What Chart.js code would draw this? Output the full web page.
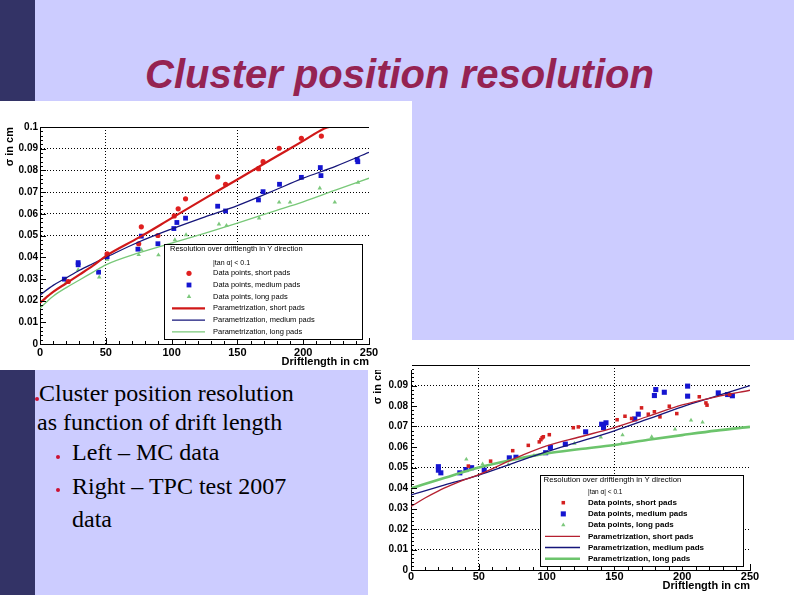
<!DOCTYPE html>
<html>
<head>
<meta charset="utf-8">
<script src="https://cdn.jsdelivr.net/npm/chart.js@4.4.1/dist/chart.umd.min.js"></script>
<style>
body { margin: 0; }
#slide { position: relative; width: 794px; height: 595px; background: #ccccff; overflow: hidden; font-family: 'Liberation Serif', 'Times New Roman', serif; }
#bar { position: absolute; left: 0; top: 0; width: 35px; height: 595px; background: #333366; }
#title { position: absolute; left: 145px; top: 54px; font: italic bold 40px/40px 'Liberation Sans', Arial, sans-serif; color: #952352; white-space: nowrap; }
.panel { position: absolute; background: #fff; }
#leftPanel { left: 0; top: 101px; width: 412px; height: 269px; z-index: 2; }
#rightPanel { left: 368px; top: 340px; width: 426px; height: 255px; z-index: 1; }
.txt { position: absolute; font-size: 24px; line-height: 24px; color: #000; white-space: nowrap; }
.dot { position: absolute; width: 4px; height: 4px; border-radius: 2px; background: #cc1133; }
</style>
</head>
<body>
<div id="slide">
  <div id="bar"></div>
  <div id="title">Cluster position resolution</div>
  <div class="panel" id="leftPanel"><canvas id="mcChart" width="412" height="269"></canvas></div>
  <div class="panel" id="rightPanel"><canvas id="tpcChart" width="426" height="255"></canvas></div>

  <div class="dot" style="left:35px;top:397px"></div>
  <div class="txt" style="left:39px;top:381px">Cluster position resolution</div>
  <div class="txt" style="left:37px;top:410px">as function of drift length</div>
  <div class="dot" style="left:56px;top:455px"></div>
  <div class="txt" style="left:72px;top:440px">Left – MC data</div>
  <div class="dot" style="left:56px;top:488px"></div>
  <div class="txt" style="left:72px;top:474px">Right – TPC test 2007</div>
  <div class="txt" style="left:72px;top:507px">data</div>
</div>

<script>
// ---- left: MC data ----
const mcShortX = [21.5, 51, 75, 77, 89.6, 102, 105, 110.6, 135, 141, 166, 169.5, 181.7, 198.6, 213.8];
const mcShortY = [0.0288, 0.0416, 0.0462, 0.054, 0.050, 0.059, 0.0623, 0.0669, 0.077, 0.0736, 0.0808, 0.084, 0.0902, 0.0948, 0.0958];
const mcMediumX = [18.5, 29, 29, 44.5, 51, 74.4, 77, 89.6, 101.7, 104, 110.6, 135, 141, 166, 169.5, 182, 198.6, 213, 213.5, 241, 241.5];
const mcMediumY = [0.0299, 0.0365, 0.0375, 0.0331, 0.0402, 0.0437, 0.0497, 0.0462, 0.0532, 0.056, 0.058, 0.0635, 0.0613, 0.0664, 0.0702, 0.0736, 0.0768, 0.0813, 0.0776, 0.085, 0.084];
const mcLongX = [19.7, 29, 45, 51, 75, 77, 90, 102.5, 111, 136, 141.7, 166.5, 181.7, 190, 212.6, 224, 241.7];
const mcLongY = [0.0284, 0.0342, 0.0308, 0.039, 0.0411, 0.0434, 0.041, 0.048, 0.0503, 0.0552, 0.0546, 0.058, 0.0653, 0.0653, 0.0718, 0.0653, 0.0745];

const mcFitShortX = [0, 10, 20, 30, 40, 50, 75, 100, 125, 150, 175, 200, 215, 220, 250];
const mcFitShortY = [0.019, 0.024, 0.028, 0.032, 0.036, 0.0405, 0.049, 0.058, 0.067, 0.0758, 0.0848, 0.0936, 0.099, 0.1, 0.1];
const mcFitMediumX = [0, 10, 20, 30, 40, 50, 75, 100, 125, 150, 175, 200, 225, 250];
const mcFitMediumY = [0.0225, 0.027, 0.0305, 0.034, 0.037, 0.0399, 0.047, 0.053, 0.0585, 0.0638, 0.070, 0.0764, 0.082, 0.0883];
const mcFitLongX = [0, 10, 20, 30, 40, 50, 75, 100, 125, 150, 175, 200, 225, 250];
const mcFitLongY = [0.0165, 0.022, 0.026, 0.0295, 0.033, 0.0365, 0.042, 0.0465, 0.051, 0.0557, 0.0607, 0.0655, 0.071, 0.0764];

// ---- right: TPC test 2007 ----
const tpcShortX = [42.3, 58.7, 75, 86.5, 94.6, 95.8, 96.7, 97.6, 102, 119.7, 123.4, 152, 157.8, 162.7, 170, 175, 179.5, 183.6, 190.5, 196, 212.6, 217.5, 218.3, 235];
const tpcShortY = [0.0507, 0.0531, 0.0582, 0.0608, 0.0625, 0.0636, 0.0645, 0.065, 0.066, 0.0694, 0.0698, 0.0733, 0.075, 0.0739, 0.0791, 0.076, 0.0772, 0.0747, 0.0799, 0.0763, 0.0845, 0.0815, 0.0804, 0.0856];
const tpcMediumX = [20.2, 20.2, 22, 36, 40.5, 44.7, 54, 72.5, 77.4, 99.3, 102.8, 113.8, 128.8, 140.6, 142, 143.8, 165, 167.6, 179.5, 180.5, 186.8, 204, 204, 226.6, 233.5, 237];
const tpcMediumY = [0.0504, 0.0487, 0.0474, 0.0474, 0.049, 0.0499, 0.0487, 0.0547, 0.055, 0.0572, 0.0598, 0.0614, 0.0674, 0.0711, 0.0695, 0.0718, 0.0737, 0.076, 0.0851, 0.088, 0.0867, 0.0897, 0.0848, 0.0864, 0.0856, 0.085];
const tpcLongX = [40.8, 52.8, 71.8, 90.7, 120.5, 140, 156, 155.4, 177.5, 194.7, 206.5, 215];
const tpcLongY = [0.054, 0.0517, 0.0515, 0.0559, 0.0617, 0.0647, 0.0658, 0.0617, 0.065, 0.0686, 0.0731, 0.0721];

const tpcFitShortX = [0, 10, 20, 30, 40, 50, 75, 100, 125, 150, 175, 200, 225, 250];
const tpcFitShortY = [0.031, 0.035, 0.0385, 0.0415, 0.0442, 0.0465, 0.054, 0.0605, 0.065, 0.0695, 0.075, 0.0805, 0.0845, 0.0877];
const tpcFitMediumX = [0, 25, 50, 75, 100, 125, 150, 175, 200, 225, 250];
const tpcFitMediumY = [0.0366, 0.0415, 0.0463, 0.052, 0.0577, 0.0627, 0.0679, 0.0737, 0.0796, 0.0848, 0.09];
const tpcFitLongX = [0, 25, 50, 75, 100, 125, 150, 175, 200, 225, 250];
const tpcFitLongY = [0.0398, 0.045, 0.05, 0.0538, 0.0569, 0.059, 0.061, 0.0635, 0.0658, 0.068, 0.0698];

const legendLabels = [
    'Data points, short pads', 'Data points, medium pads', 'Data points, long pads',
    'Parametrization, short pads', 'Parametrization, medium pads', 'Parametrization, long pads'
];

const AXIS_FONT = "'Liberation Sans', Arial, sans-serif";

const pts = (xs, ys) => xs.map((x, i) => ({ x, y: ys[i] }));

// inward ROOT-style ticks + top frame line
const rootTicks = {
    id: 'rootTicks',
    afterDatasetsDraw(chart, args, o) {
        const { ctx, chartArea: a, scales: { x, y } } = chart;
        ctx.save();
        ctx.strokeStyle = '#000';
        ctx.lineWidth = 1;
        ctx.beginPath();
        const nx = Math.round((x.max - x.min) / 10);
        for (let i = 0; i <= nx; i++) {
            const px = Math.round(x.getPixelForValue(x.min + i * 10)) + 0.5;
            ctx.moveTo(px, a.bottom);
            ctx.lineTo(px, a.bottom - (i % 5 === 0 ? 6 : 3));
        }
        const ny = Math.round((y.max - y.min) / 0.002);
        for (let i = 0; i <= ny; i++) {
            const py = Math.round(y.getPixelForValue(y.min + i * 0.002)) + 0.5;
            ctx.moveTo(a.left, py);
            ctx.lineTo(a.left + (i % 5 === 0 ? 6 : 3), py);
        }
        if (o.topFrame) {
            ctx.moveTo(a.left, Math.round(a.top) + 0.5);
            ctx.lineTo(a.right, Math.round(a.top) + 0.5);
        }
        ctx.stroke();
        ctx.restore();
    }
};

function drawMarker(ctx, style, x, y, r, color) {
    ctx.fillStyle = color;
    ctx.beginPath();
    if (style === 'circle') {
        ctx.arc(x, y, r, 0, Math.PI * 2);
    } else if (style === 'rect') {
        const s = r * Math.SQRT1_2;
        ctx.rect(x - s, y - s, 2 * s, 2 * s);
    } else {
        ctx.moveTo(x, y - r);
        ctx.lineTo(x + r * 0.866, y + r * 0.5);
        ctx.lineTo(x - r * 0.866, y + r * 0.5);
        ctx.closePath();
    }
    ctx.fill();
}

const rootLegend = {
    id: 'rootLegend',
    afterDatasetsDraw(chart, args, o) {
        const ctx = chart.ctx;
        const [x1, y1, x2, y2] = o.box;
        ctx.save();
        ctx.fillStyle = '#fff';
        ctx.fillRect(x1, y1, x2 - x1, y2 - y1);
        ctx.strokeStyle = '#000';
        ctx.lineWidth = 1;
        ctx.strokeRect(x1 + 0.5, y1 + 0.5, x2 - x1, y2 - y1);
        ctx.textBaseline = 'middle';
        ctx.textAlign = 'left';
        ctx.fillStyle = '#000';
        ctx.font = o.titleFont;
        ctx.fillText('Resolution over driftlength in Y direction', o.titleX, o.titleY);
        ctx.font = o.noteFont;
        ctx.fillText('|tan α| < 0.1', o.textX, o.noteY);
        chart.data.datasets.forEach((ds, i) => {
            const y = o.rowY + i * o.rowStep;
            if (ds.showLine) {
                ctx.strokeStyle = ds.borderColor;
                ctx.lineWidth = ds.borderWidth;
                ctx.beginPath();
                ctx.moveTo(o.lineX1, y);
                ctx.lineTo(o.lineX2, y);
                ctx.stroke();
            } else {
                drawMarker(ctx, ds.pointStyle, o.markX, y, ds.pointRadius, ds.backgroundColor);
            }
            ctx.fillStyle = '#000';
            ctx.font = o.entryFont;
            ctx.fillText(ds.label, o.textX, y);
        });
        ctx.restore();
    }
};

function pointSet(label, data, style, radius, color) {
    return { label, data, showLine: false, pointStyle: style, pointRadius: radius, pointBorderWidth: 0,
             backgroundColor: color, borderColor: color, order: 1 };
}

function fitSet(label, data, color, width) {
    return { label, data, showLine: true, pointRadius: 0, borderColor: color, backgroundColor: color,
             borderWidth: width, cubicInterpolationMode: 'monotone', fill: false, order: 0 };
}

function makeResolutionChart(canvasId, cfg) {
    const el = document.getElementById(canvasId);
    if (!el) return null;
    const near = (list, v) => list.some(g => Math.abs(g - v) < 1e-6);
    return new Chart(el.getContext('2d'), {
        type: 'scatter',
        data: { datasets: cfg.datasets },
        options: {
            responsive: false,
            animation: false,
            events: [],
            layout: { padding: cfg.padding },
            plugins: {
                legend: { display: false },
                tooltip: { enabled: false },
                rootLegend: cfg.legend,
                rootTicks: { topFrame: true }
            },
            scales: {
                x: {
                    type: 'linear', min: 0, max: 250,
                    afterFit: s => { s.height = cfg.xHeight; },
                    ticks: { stepSize: 50, padding: cfg.xTickPad, color: '#000', maxRotation: 0, autoSkip: false,
                             font: { family: AXIS_FONT, size: 11, weight: 'bold' } },
                    grid: { drawTicks: false, lineWidth: 1,
                            color: c => (c.tick && near(cfg.xGrid, c.tick.value)) ? '#000' : 'rgba(0,0,0,0)' },
                    border: { display: true, color: '#000', width: 1, dash: [1, 2] },
                    title: { display: true, text: 'Driftlength in cm', align: 'end', color: '#000',
                             font: { family: AXIS_FONT, size: 11, weight: 'bold' },
                             padding: { top: 0, bottom: cfg.xTitlePad } }
                },
                y: {
                    type: 'linear', min: 0, max: 0.1,
                    afterFit: s => { s.width = cfg.yWidth; },
                    ticks: { stepSize: 0.01, padding: cfg.yTickPad, color: '#000', autoSkip: false, includeBounds: false,
                             font: { family: AXIS_FONT, size: 10, weight: 'bold' },
                             callback: v => (cfg.hideTop && v > 0.0999) ? '' : String(+v.toFixed(3)) },
                    grid: { drawTicks: false, lineWidth: 1,
                            color: c => (c.tick && near(cfg.yGrid, c.tick.value)) ? '#000' : 'rgba(0,0,0,0)' },
                    border: { display: true, color: '#000', width: 1, dash: [1, 2] },
                    title: { display: true, text: 'σ in cm', align: 'end', color: '#000',
                             font: { family: AXIS_FONT, size: 11, weight: 'bold' },
                             padding: { top: 3, bottom: 0 } }
                }
            }
        },
        plugins: [rootTicks, rootLegend]
    });
}

makeResolutionChart('mcChart', {
    datasets: [
        pointSet(legendLabels[0], pts(mcShortX, mcShortY), 'circle', 2.6, '#e02020'),
        pointSet(legendLabels[1], pts(mcMediumX, mcMediumY), 'rect', 3.4, '#1515d0'),
        pointSet(legendLabels[2], pts(mcLongX, mcLongY), 'triangle', 2.6, '#7cc87c'),
        fitSet(legendLabels[3], pts(mcFitShortX, mcFitShortY), '#d01818', 2.2),
        fitSet(legendLabels[4], pts(mcFitMediumX, mcFitMediumY), '#15157a', 1.3),
        fitSet(legendLabels[5], pts(mcFitLongX, mcFitLongY), '#78c878', 1.3)
    ],
    padding: { top: 26, right: 43, bottom: 0, left: 0 },
    xHeight: 26, yWidth: 40, xTickPad: 2, yTickPad: 2, xTitlePad: 1,
    xGrid: [50, 150], yGrid: [0.05, 0.06, 0.07, 0.08, 0.09],
    hideTop: false,
    legend: {
        box: [164, 143, 362, 238], titleX: 170, titleY: 148, textX: 213, noteY: 162.3,
        rowY: 172.3, rowStep: 11.7, markX: 189, lineX1: 172, lineX2: 205,
        titleFont: "7.5px 'Liberation Sans', Arial", noteFont: "7px 'Liberation Sans', Arial",
        entryFont: "7.5px 'Liberation Sans', Arial"
    }
});

makeResolutionChart('tpcChart', {
    datasets: [
        pointSet(legendLabels[0], pts(tpcShortX, tpcShortY), 'rect', 2.5, '#d42020'),
        pointSet(legendLabels[1], pts(tpcMediumX, tpcMediumY), 'rect', 3.6, '#1515d0'),
        pointSet(legendLabels[2], pts(tpcLongX, tpcLongY), 'triangle', 2.5, '#7cc87c'),
        fitSet(legendLabels[3], pts(tpcFitShortX, tpcFitShortY), '#b52030', 1.3),
        fitSet(legendLabels[4], pts(tpcFitMediumX, tpcFitMediumY), '#15157a', 1.3),
        fitSet(legendLabels[5], pts(tpcFitLongX, tpcFitLongY), '#6cc46c', 2.6)
    ],
    padding: { top: 25, right: 44, bottom: 0, left: 0 },
    xHeight: 25, yWidth: 43, xTickPad: 0, yTickPad: 3, xTitlePad: 2.4,
    xGrid: [50, 150], yGrid: [0.01, 0.02, 0.05, 0.07, 0.09],
    hideTop: true,
    legend: {
        box: [172, 135, 375, 226], titleX: 175.5, titleY: 140, textX: 220, noteY: 152.7,
        rowY: 162.7, rowStep: 11.2, markX: 195.3, lineX1: 177, lineX2: 212,
        titleFont: "7.8px 'Liberation Sans', Arial", noteFont: "6.5px 'Liberation Sans', Arial",
        entryFont: "bold 8px 'Liberation Sans', Arial"
    }
});
</script>
</body>
</html>
